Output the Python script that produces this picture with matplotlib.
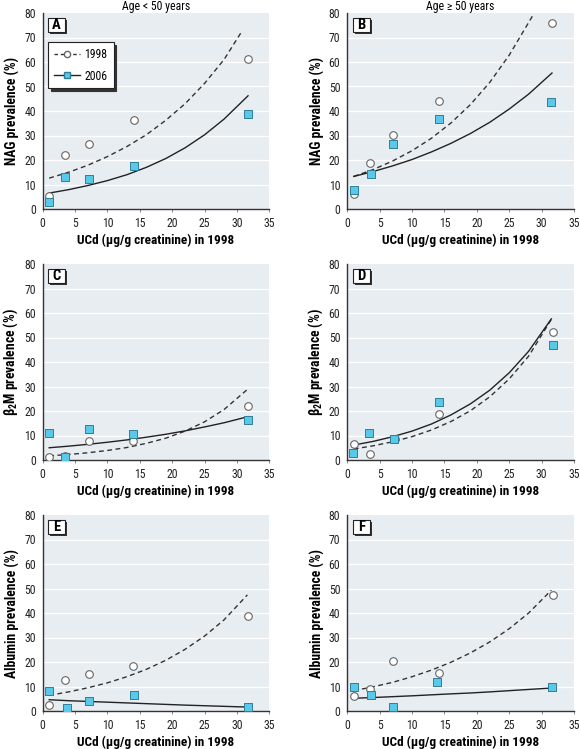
import matplotlib

matplotlib.use("Agg")

import matplotlib.pyplot as plt
from matplotlib.lines import Line2D
from matplotlib.patches import Rectangle

plt.rcParams["font.family"] = ["Roboto Condensed", "DejaVu Sans"]
plt.rcParams["mathtext.fontset"] = "custom"
plt.rcParams["mathtext.rm"] = "Roboto Condensed"
plt.rcParams["mathtext.bf"] = "Roboto Condensed:bold"
plt.rcParams["mathtext.default"] = "bf"

# measured points: UCd in 1998 (x) and prevalence (%) in 1998 / 2006
x_1998 = {
    "A": [1.0, 3.5, 7.1, 14.1, 31.7],
    "B": [1.0, 3.5, 7.1, 14.1, 31.6],
    "C": [1.0, 3.5, 7.1, 14.0, 31.7],
    "D": [1.0, 3.5, 7.3, 14.1, 31.7],
    "E": [1.0, 3.5, 7.1, 14.0, 31.7],
    "F": [1.0, 3.5, 7.1, 14.1, 31.7],
}
y_1998 = {
    "A": [5.4, 22.0, 26.4, 36.2, 61.2],
    "B": [6.2, 18.6, 30.4, 44.1, 75.9],
    "C": [1.1, 1.5, 7.9, 7.8, 22.0],
    "D": [6.5, 2.4, 8.7, 18.6, 52.4],
    "E": [2.3, 12.5, 15.0, 18.5, 38.6],
    "F": [6.3, 8.9, 20.3, 15.7, 47.3],
}
x_2006 = {
    "A": [1.0, 3.5, 7.1, 14.1, 31.7],
    "B": [1.0, 3.6, 7.1, 14.1, 31.5],
    "C": [1.0, 3.5, 7.1, 14.0, 31.7],
    "D": [0.9, 3.4, 7.2, 14.1, 31.7],
    "E": [1.0, 3.7, 7.2, 14.1, 31.7],
    "F": [1.0, 3.6, 7.1, 13.9, 31.6],
}
y_2006 = {
    "A": [2.7, 13.0, 12.3, 17.4, 38.8],
    "B": [7.9, 14.2, 26.4, 36.7, 43.5],
    "C": [11.0, 1.4, 12.5, 10.5, 16.2],
    "D": [3.0, 10.9, 8.7, 23.8, 46.9],
    "E": [8.0, 1.2, 4.2, 6.7, 1.8],
    "F": [9.9, 6.5, 1.5, 11.7, 9.9],
}

# fitted curves
fit_x_1998 = {
    "A": [1, 4, 7, 10, 13, 16, 19, 22, 25, 28, 30.6],
    "B": [1, 4, 7, 10, 13, 16, 19, 22, 25, 28.8],
    "C": [1, 4, 7, 10, 13, 16, 19, 22, 25, 28, 31.6],
    "D": [1, 4, 7, 10, 13, 16, 19, 22, 25, 28, 31.5],
    "E": [1, 4, 7, 10, 13, 16, 19, 22, 25, 28, 31.6],
    "F": [1, 4, 7, 10, 13, 16, 19, 22, 25, 28, 31.5],
}
fit_y_1998 = {
    "A": [12.6, 15.0, 17.9, 21.4, 25.5, 30.3, 36.2, 43.0, 51.3, 61.0, 71.9],
    "B": [13.3, 16.1, 19.6, 23.8, 28.9, 35.1, 42.6, 51.7, 62.8, 79.7],
    "C": [1.7, 2.25, 2.96, 3.89, 5.1, 6.8, 8.9, 11.8, 15.6, 20.6, 28.8],
    "D": [4.5, 5.8, 7.45, 9.55, 12.25, 15.7, 20.1, 25.8, 33.1, 42.4, 57.4],
    "E": [6.4, 7.8, 9.5, 11.5, 14.0, 17.0, 20.7, 25.2, 30.6, 37.2, 47.4],
    "F": [8.3, 9.9, 11.7, 14.0, 16.7, 19.9, 23.7, 28.2, 33.6, 40.0, 49.3],
}
fit_x_2006 = {
    "A": [1, 4, 7, 10, 13, 16, 19, 22, 25, 28, 31.7],
    "B": [1, 4, 7, 10, 13, 16, 19, 22, 25, 28, 31.6],
    "C": [1, 4, 7, 10, 13, 16, 19, 22, 25, 28, 31.7],
    "D": [1, 4, 7, 10, 13, 16, 19, 22, 25, 28, 31.5],
    "E": [1, 4, 7, 10, 13, 16, 19, 22, 25, 28, 31.7],
    "F": [1, 4, 7, 10, 13, 16, 19, 22, 25, 28, 31.7],
}
fit_y_2006 = {
    "A": [6.5, 7.9, 9.6, 11.6, 14.0, 17.0, 20.6, 25.0, 30.3, 36.7, 46.2],
    "B": [13.3, 15.3, 17.6, 20.2, 23.3, 26.8, 30.8, 35.4, 40.8, 46.9, 55.5],
    "C": [5.0, 5.65, 6.4, 7.25, 8.2, 9.3, 10.5, 11.9, 13.5, 15.2, 17.7],
    "D": [6.1, 7.6, 9.5, 11.8, 14.7, 18.4, 22.9, 28.5, 35.6, 44.4, 57.6],
    "E": [4.6, 4.2, 3.9, 3.6, 3.3, 3.0, 2.7, 2.4, 2.15, 1.9, 1.6],
    "F": [5.2, 5.5, 5.85, 6.2, 6.6, 7.0, 7.35, 7.8, 8.3, 8.8, 9.4],
}

y_labels = {
    "A": "NAG prevalence (%)",
    "B": "NAG prevalence (%)",
    "C": "\u03b2$_2$M prevalence (%)",
    "D": "\u03b2$_2$M prevalence (%)",
    "E": "Albumin prevalence (%)",
    "F": "Albumin prevalence (%)",
}
titles = {"A": "Age < 50 years", "B": "Age \u2265 50 years"}
x_label = "UCd (\u00b5g/g creatinine) in 1998"

BG = "#e8edf2"
SQ_FILL = "#5ac8e8"
SQ_EDGE = "#2f7f98"

W, H = 580, 749
fig = plt.figure(figsize=(W / 100, H / 100), dpi=100)

col_left = [42.7, 347.3]
row_top = [13, 264, 515]
ax_w, ax_h = 226.7, 196

panels = [["A", "B"], ["C", "D"], ["E", "F"]]
for r, row in enumerate(panels):
    for c, key in enumerate(row):
        left = col_left[c] / W
        bottom = (H - row_top[r] - ax_h) / H
        ax = fig.add_axes([left, bottom, ax_w / W, ax_h / H])
        ax.set_facecolor(BG)
        ax.set_xlim(0, 35)
        ax.set_ylim(0, 80)
        ax.set_xticks(range(0, 36, 5))
        ax.set_yticks(range(0, 81, 10))
        for yv in range(10, 80, 10):
            ax.axhline(yv, color="white", lw=0.9, zorder=0.5)
        for s in ["top", "right"]:
            ax.spines[s].set_visible(False)
        for s in ["left", "bottom"]:
            ax.spines[s].set_color("#333333")
            ax.spines[s].set_linewidth(1.0)
        ax.tick_params(axis="x", length=2.5, width=0.7, color="#888888",
                       labelsize=8.5, pad=3, labelcolor="#222222")
        ax.tick_params(axis="y", length=0, labelsize=8.5, pad=5, labelcolor="#222222")

        ax.plot(fit_x_1998[key], fit_y_1998[key], color="#333333", lw=1.0,
                ls=(0, (3.5, 2.5)), zorder=2)
        ax.plot(fit_x_2006[key], fit_y_2006[key], color="#222222", lw=1.0,
                zorder=2)
        ax.scatter(x_1998[key], y_1998[key], s=30, facecolor="white",
                   edgecolor="#666666", linewidth=0.8, zorder=3)
        ax.scatter(x_2006[key], y_2006[key], s=34, marker="s",
                   facecolor=SQ_FILL, edgecolor=SQ_EDGE, linewidth=0.7, zorder=4)

        ax.set_xlabel(x_label, fontsize=9.5, fontweight="bold", labelpad=3)
        ax.set_ylabel(y_labels[key], fontsize=9.8, fontweight="bold", labelpad=3)
        if key in titles:
            ax.set_title(titles[key], fontsize=8.5, pad=1.5)

        # panel letter box with shadow
        bx, by, bw, bh = 0.024, 0.905, 0.074, 0.072
        ax.add_patch(Rectangle((bx + 0.009, by - 0.011), bw, bh, transform=ax.transAxes,
                               facecolor="#333333", edgecolor="none", zorder=5))
        ax.add_patch(Rectangle((bx, by), bw, bh, transform=ax.transAxes,
                               facecolor="white", edgecolor="#222222", lw=0.8, zorder=6))
        ax.text(bx + bw / 2, by + bh / 2, key, transform=ax.transAxes, ha="center",
                va="center", fontsize=10.5, fontweight="bold", zorder=7)

        if key == "A":
            handles = [
                Line2D([], [], color="#333333", lw=1.0, ls=(0, (2.5, 2)), marker="o",
                       markersize=4.5, markerfacecolor="white", markeredgecolor="#666666"),
                Line2D([], [], color="#222222", lw=1.0, marker="s", markersize=5,
                       markerfacecolor=SQ_FILL, markeredgecolor=SQ_EDGE),
            ]
            leg = ax.legend(handles, ["1998", "2006"], loc="upper left",
                            bbox_to_anchor=(0.023, 0.85), fontsize=8.5, frameon=True,
                            fancybox=False, shadow={"color": "#333333", "alpha": 1},
                            framealpha=1, edgecolor="#222222", handlelength=2.2,
                            borderpad=0.5, labelspacing=0.7, handletextpad=0.4,
                            borderaxespad=0)
            leg.get_frame().set_linewidth(0.8)

fig.savefig("out.png", dpi=100)
